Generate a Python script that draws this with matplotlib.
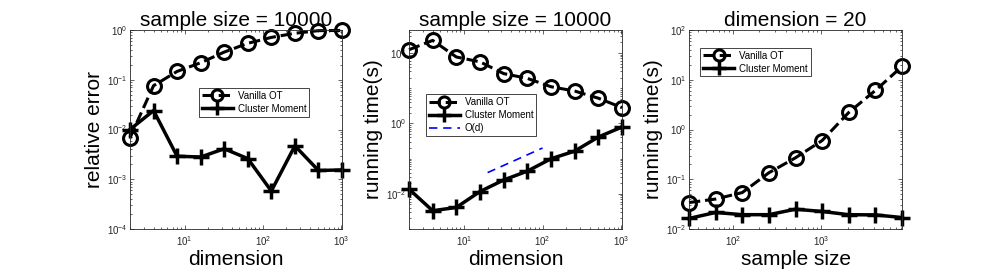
import numpy as np
import matplotlib
matplotlib.use('Agg')
import matplotlib.pyplot as plt
from matplotlib.ticker import LogLocator, FixedLocator, NullFormatter

plt.rcParams['font.family'] = ['Liberation Sans', 'DejaVu Sans']
plt.rcParams['mathtext.default'] = 'regular'

# x values
dims = [2, 4, 8, 16, 32, 64, 128, 256, 512, 1024]
samples = [32, 64, 128, 256, 512, 1024, 2048, 4096, 8192]

# panel 1: relative error vs dimension (sample size = 10000)
err_vanilla = [0.0069, 0.076, 0.147, 0.22, 0.36, 0.54, 0.71, 0.86, 0.97, 0.98]
err_cluster = [0.010, 0.024, 0.0029, 0.0028, 0.0041, 0.0026, 0.00058, 0.0047, 0.0015, 0.00154]

# panel 2: running time vs dimension (sample size = 10000)
time_d_vanilla = [124, 228, 77, 56, 26, 19, 11, 8.3, 5.2, 2.8]
time_d_cluster = [0.0136, 0.0033, 0.0041, 0.0116, 0.0247, 0.044, 0.099, 0.163, 0.41, 0.79]
od_dims = [20, 100]
od_time = [0.04, 0.2]

# panel 3: running time vs sample size (dimension = 20)
time_n_vanilla = [0.034, 0.040, 0.054, 0.135, 0.27, 0.60, 2.2, 6.1, 18.5]
time_n_cluster = [0.0163, 0.0215, 0.0194, 0.0194, 0.025, 0.0225, 0.0194, 0.0192, 0.017]

fig = plt.figure(figsize=(9.97, 2.75), dpi=100)
W, H = 997.0, 275.0
ax1 = fig.add_axes([130 / W, 1 - 229 / H, 212 / W, 199 / H])
ax2 = fig.add_axes([409 / W, 1 - 229 / H, 213 / W, 199 / H])
ax3 = fig.add_axes([689 / W, 1 - 229 / H, 213 / W, 199 / H])

van_style = dict(color='k', linestyle='--', linewidth=2.2, marker='o', markersize=10,
                 markerfacecolor='none', markeredgewidth=2.2, label='Vanilla OT')
clu_style = dict(color='k', linestyle='-', linewidth=2.5, marker='+', markersize=12,
                 markeredgewidth=2.5, label='Cluster Moment')


def style_axes(ax):
    ax.set_xscale('log')
    ax.set_yscale('log')
    ax.tick_params(which='both', direction='in', top=True, right=True,
                   colors='0.15', labelsize=7, width=0.5)
    ax.tick_params(which='major', length=3)
    ax.tick_params(which='minor', length=1.5)
    ax.tick_params(axis='x', pad=4)
    ax.tick_params(axis='y', pad=2)
    for s in ax.spines.values():
        s.set_linewidth(0.6)
        s.set_color('0.15')


def add_legend(ax, x, y):
    leg = ax.legend(loc='upper left', bbox_to_anchor=(x, y), borderaxespad=0,
                    fontsize=7, handlelength=3.2, markerscale=0.8,
                    fancybox=False, framealpha=1, edgecolor='0.15',
                    borderpad=0.3, labelspacing=0.3, handletextpad=0.5)
    leg.get_frame().set_linewidth(0.6)


# relative error
style_axes(ax1)
ax1.plot(dims, err_vanilla, **van_style)
ax1.plot(dims, err_cluster, **clu_style)
ax1.set_xlim(2, 1024)
ax1.set_ylim(1e-4, 1)
ax1.xaxis.set_major_locator(FixedLocator([10, 100, 1000]))
ax1.yaxis.set_major_locator(FixedLocator([1e-4, 1e-3, 1e-2, 1e-1, 1]))
ax1.set_title('sample size = 10000', fontsize=15, pad=3)
ax1.set_xlabel('dimension', fontsize=15, labelpad=1)
ax1.set_ylabel('relative error', fontsize=15, labelpad=2)
add_legend(ax1, 0.325, 0.709)

# running time vs dimension
style_axes(ax2)
ax2.plot(dims, time_d_vanilla, **van_style)
ax2.plot(dims, time_d_cluster, **clu_style)
ax2.plot(od_dims, od_time, color='b', linestyle='--', linewidth=1.2,
         dashes=(5, 3.5), label='O(d)')
ax2.set_xlim(2, 1024)
ax2.set_ylim(1e-3, 450)
ax2.xaxis.set_major_locator(FixedLocator([10, 100, 1000]))
ax2.yaxis.set_major_locator(FixedLocator([1e-2, 1, 1e2]))
ax2.yaxis.set_minor_locator(LogLocator(base=10, subs=np.arange(1, 10), numticks=20))
ax2.yaxis.set_minor_formatter(NullFormatter())
ax2.set_title('sample size = 10000', fontsize=15, pad=3)
ax2.set_xlabel('dimension', fontsize=15, labelpad=1)
ax2.set_ylabel('running time(s)', fontsize=15, labelpad=2)
add_legend(ax2, 0.078, 0.677)

# running time vs sample size
style_axes(ax3)
ax3.plot(samples, time_n_vanilla, **van_style)
ax3.plot(samples, time_n_cluster, **clu_style)
ax3.set_xlim(32, 8192)
ax3.set_ylim(1e-2, 1e2)
ax3.xaxis.set_major_locator(FixedLocator([100, 1000]))
ax3.yaxis.set_major_locator(FixedLocator([1e-2, 1e-1, 1, 10, 100]))
ax3.set_title('dimension = 20', fontsize=15, pad=3)
ax3.set_xlabel('sample size', fontsize=15, labelpad=1)
ax3.set_ylabel('running time(s)', fontsize=15, labelpad=2)
add_legend(ax3, 0.052, 0.911)

for ax in (ax1, ax2, ax3):
    for line in ax.get_lines():
        line.set_clip_on(False)

fig.savefig('out.png', dpi=100)
